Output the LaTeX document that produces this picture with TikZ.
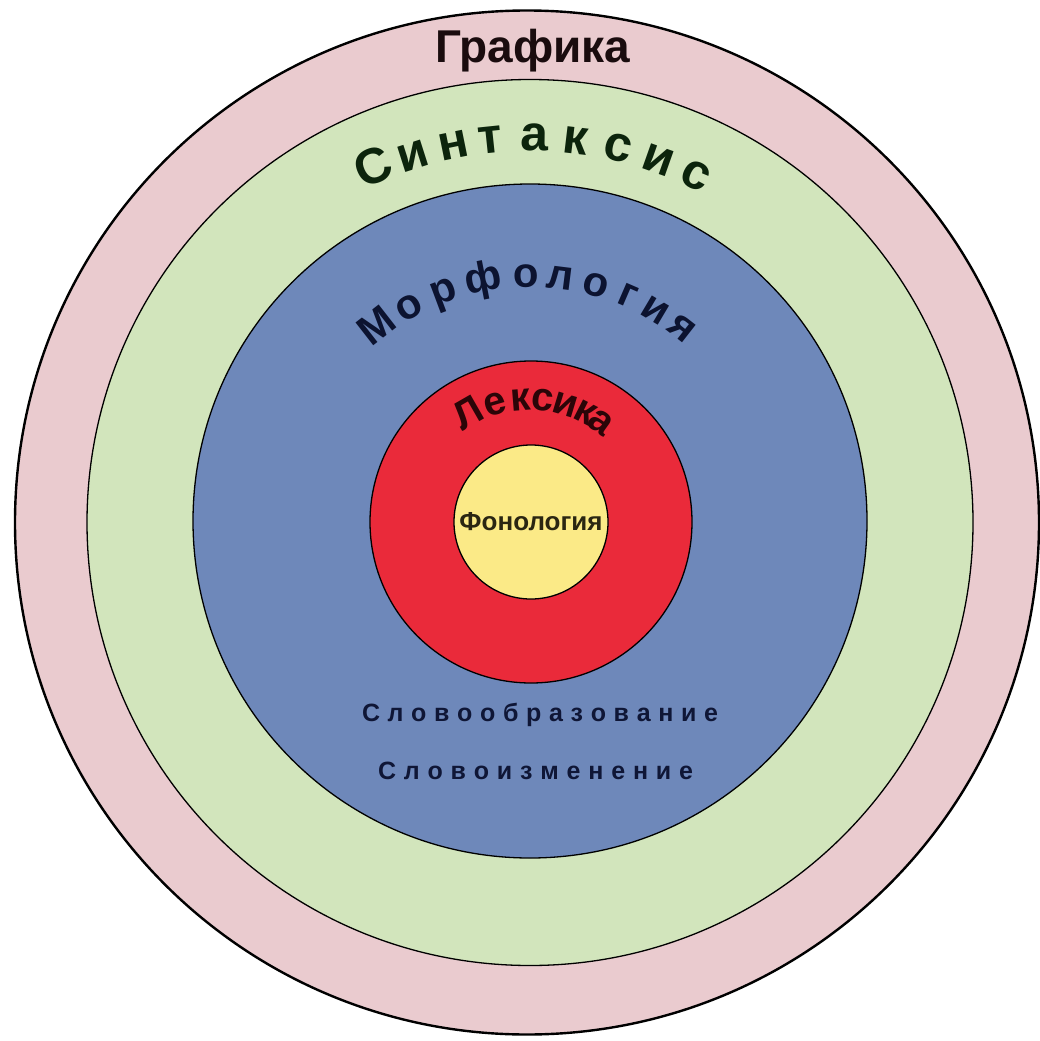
\documentclass[tikz,border=0pt]{standalone}
\usepackage{fontspec}
\setmainfont{Liberation Sans}
\usetikzlibrary{calc}
\definecolor{pinkring}{RGB}{234,203,207}
\definecolor{greenring}{RGB}{210,229,188}
\definecolor{bluering}{RGB}{110,136,186}
\definecolor{redring}{RGB}{234,42,58}
\definecolor{yellowring}{RGB}{251,234,135}
\definecolor{grafcol}{RGB}{26,12,14}
\definecolor{syncol}{RGB}{12,36,12}
\definecolor{morcol}{RGB}{12,19,48}
\definecolor{lexcol}{RGB}{43,5,8}
\definecolor{foncol}{RGB}{42,38,18}
\definecolor{slovcol}{RGB}{15,22,54}
\newcommand{\fsz}[1]{\fontsize{#1}{#1}\selectfont}
\begin{document}
\begin{tikzpicture}[x=1pt,y=1pt,
  ring/.style={draw=black,line width=1.3pt},
  arcletter/.style={anchor=base,inner sep=0pt,font=\bfseries},
  flat/.style={anchor=base,inner sep=0pt,font=\bfseries}]
\useasboundingbox (0,0) rectangle (1039,-1041);
\coordinate (c) at (530,-522);
% rings
\draw[ring,line width=2.4pt,fill=pinkring] (527,-522.5) circle (512);
\draw[ring,fill=greenring] (530,-522.5) circle (443);
\draw[ring,fill=bluering] (530,-521) circle (337);
\draw[ring,fill=redring] (531,-522) circle (161);
\draw[ring,fill=yellowring] (531,-522) circle (77);
% straight labels
\node[flat,text=grafcol,font=\bfseries\fsz{46}] (graf) at (533,-63) {Графика};
\node[flat,text=foncol,font=\bfseries\fsz{26}] (fon) at (531,-530) {Фонология};
\node[flat,text=slovcol,font=\bfseries\fsz{25}] (slov1) at (540,-721)
  {\makebox[356pt][s]{С\hfill л\hfill о\hfill в\hfill о\hfill о\hfill б\hfill р\hfill а\hfill з\hfill о\hfill в\hfill а\hfill н\hfill и\hfill е}};
\node[flat,text=slovcol,font=\bfseries\fsz{25}] (slov2) at (535.5,-779)
  {\makebox[315pt][s]{С\hfill л\hfill о\hfill в\hfill о\hfill и\hfill з\hfill м\hfill е\hfill н\hfill е\hfill н\hfill и\hfill е}};
% arc labels
\foreach \ch/\a [count=\i] in {С/-23.8,и/-17.7,н/-11.5,т/-6.0,а/0.7,к/6.8,с/13.3,и/19.5,с/25.5}
  \node[arcletter,text=syncol,font=\bfseries\fsz{50},rotate={-(\a)}] (syn\i) at ($(c)+({90-(\a)}:371)$) {\ch};
\foreach \ch/\a [count=\i] in {М/-37.9,о/-29.3,р/-20.5,ф/-11.0,о/-0.9,л/7.1,о/15.4,г/23.4,и/30.7,я/38.0}
  \node[arcletter,text=morcol,font=\bfseries\fsz{42},rotate={-(\a)}] (mor\i) at ($(c)+({90-(\a)}:235)$) {\ch};
\foreach \ch/\a [count=\i] in {Л/-29.8,е/-16.3,к/-4.6,с/6.1,и/16.8,к/27.0,а/35.5}
  \node[arcletter,text=lexcol,font=\bfseries\fsz{40},rotate={-(\a)}] (lex\i) at ($(c)+({90-(\a)}:112)$) {\ch};
\end{tikzpicture}
\end{document}
